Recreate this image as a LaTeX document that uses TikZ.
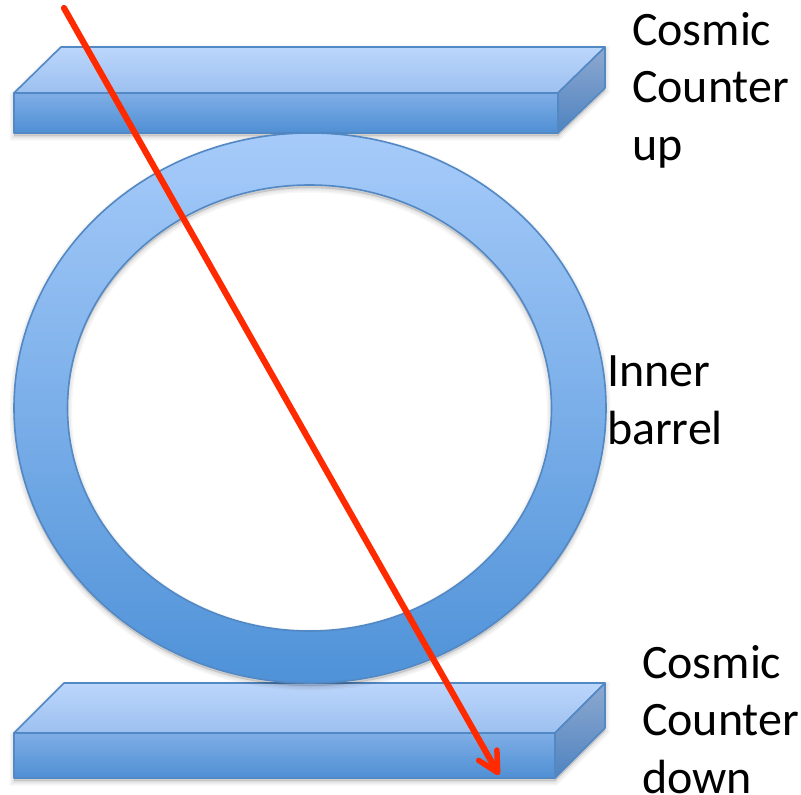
\documentclass[tikz,border=0pt]{standalone}
\usepackage{fontspec}
\setmainfont{Carlito}
\usetikzlibrary{arrows.meta}
\definecolor{edgeblue}{HTML}{5288C4}
\definecolor{arrowred}{HTML}{FF2A00}
\tikzset{
  x=1pt,y=-1pt,
  edge/.style={draw=edgeblue,line width=1.6pt,line join=round},
  topface/.style={edge,top color=top1,bottom color=top2},
  frontface/.style={edge,top color=front1,bottom color=front2},
  sideface/.style={edge,top color=side1,bottom color=side2},
  ringface/.style={edge,even odd rule,top color=ring1,bottom color=ring2},
  softshadow/.style={draw=black,fill=black,draw opacity=.035,fill opacity=.03,line width=#1},
  caption/.style={inner sep=0pt,outer sep=0pt,align=left,font=\fontsize{48}{57.5}\selectfont,text=black},
  track/.style={draw=arrowred,line width=6.2pt,line cap=round,
    -{Straight Barb[length=20pt,width=21pt,line width=5.5pt,round]}}
}
\definecolor{top1}{HTML}{BCD6FC}\definecolor{top2}{HTML}{9CC0EF}
\definecolor{front1}{HTML}{7FAEE6}\definecolor{front2}{HTML}{4F8FD4}
\definecolor{side1}{HTML}{8EA9D0}\definecolor{side2}{HTML}{4F83C0}
\definecolor{ring1}{HTML}{A6CBFA}\definecolor{ring2}{HTML}{4F92D8}
\newcommand{\upperbox}{(14,133) -- (14,93) -- (61,47) -- (605,47) -- (605,88) -- (558,133) -- cycle}
\newcommand{\lowerbox}{(14,778) -- (14,733) -- (64,683) -- (605,683) -- (605,728) -- (555,778) -- cycle}
\begin{document}
\begin{tikzpicture}
\useasboundingbox (0,0) rectangle (801,795);
% shadows of the counters
\foreach \w in {9,6,3,1}{
  \begin{scope}[yshift=-3pt]
    \path[softshadow=\w pt] \upperbox;
    \path[softshadow=\w pt] \lowerbox;
  \end{scope}
}
% upper counter
\path[topface] (14,93) -- (61,47) -- (605,47) -- (558,93) -- cycle;
\path[frontface] (14,93) rectangle (558,133);
\path[sideface] (558,93) -- (605,47) -- (605,88) -- (558,133) -- cycle;
% lower counter
\path[topface] (14,733) -- (64,683) -- (605,683) -- (555,733) -- cycle;
\path[frontface] (14,733) rectangle (555,778);
\path[sideface] (555,733) -- (605,683) -- (605,728) -- (555,778) -- cycle;
% ring shadow and ring
\foreach \w in {9,6,3,1}{
  \path[softshadow=\w pt,yshift=-3pt,even odd rule] (310,408) ellipse [x radius=296,y radius=275] (309.5,408) ellipse [x radius=242,y radius=223];
}
\path[ringface] (310,408) ellipse [x radius=296,y radius=275] (309.5,408) ellipse [x radius=242,y radius=223];
% labels
\node[caption,anchor=north west] (up) at (632,12) {Cosmic\\Counter\\up};
\node[caption,anchor=north west] (barrel) at (607,356) {Inner\\barrel};
\node[caption,anchor=north west] (down) at (642,645) {Cosmic\\Counter\\down};
% particle track
\coordinate (start) at (64,8);
\coordinate (finish) at (499,775);
\draw[track] (start) -- (finish);
\end{tikzpicture}
\end{document}
